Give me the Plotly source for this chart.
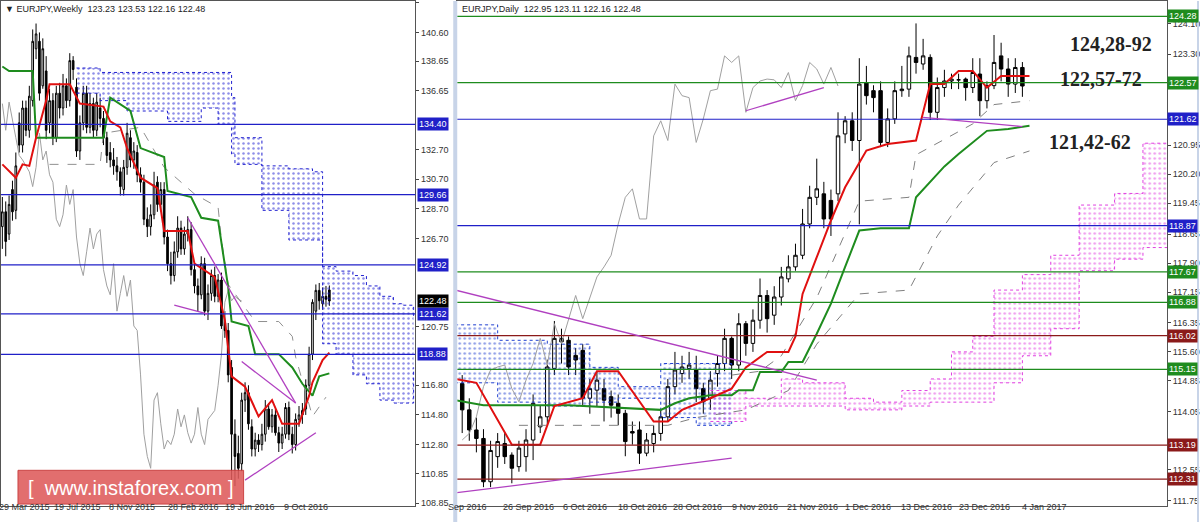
import plotly.graph_objects as go

# ---------------- weekly panel data (EURJPY, Weekly) ----------------
wO = [127.5,128.5,127.0,130.0,128.6,134.5,133.0,135.5,134.0,136.0,
      139.5,140.0,137.0,138.0,134.5,136.0,133.5,136.5,135.5,137.0,
      136.0,138.7,136.9,132.6,134.5,136.5,134.2,135.8,134.0,135.5,
      134.8,133.5,132.5,132.0,131.6,131.2,130.0,131.5,133.5,132.0,
      132.5,131.0,130.5,128.0,127.5,128.3,130.5,129.0,130.0,126.8,
      125.0,124.2,125.8,127.4,126.0,127.0,127.3,124.6,123.5,122.9,
      125.0,121.8,123.0,124.2,122.8,123.9,121.0,120.5,118.0,113.5,
      112.2,111.5,115.8,116.3,114.0,112.5,113.1,112.8,113.5,115.2,
      114.0,114.8,113.6,112.9,113.5,115.3,113.5,112.8,114.5,114.8,
      115.2,116.8,118.9,121.8,123.2,122.3,122.8,123.23]
wC = [128.5,126.5,129.0,128.5,131.6,133.0,135.5,134.0,136.3,140.0,
      140.5,136.5,139.5,134.0,136.0,133.5,136.5,135.5,137.0,136.0,
      138.7,138.1,132.6,134.5,136.5,134.2,135.8,134.0,135.9,134.8,
      133.5,132.3,132.0,131.6,131.2,130.2,131.5,133.8,132.0,132.6,
      131.0,130.5,128.0,127.5,128.3,130.3,129.0,130.0,126.8,125.0,
      124.2,125.8,127.4,126.0,127.0,127.3,124.6,123.5,122.9,125.0,
      121.8,123.0,124.2,122.8,123.9,120.8,120.5,117.5,113.5,112.0,
      111.2,115.8,116.3,114.2,112.5,113.1,112.8,113.5,115.2,114.0,
      114.8,113.6,112.9,113.5,115.3,113.5,112.8,114.5,114.8,115.1,
      116.8,118.9,122.4,123.2,122.5,122.8,122.6,122.48]
wH = [129.5,129.2,129.6,130.6,132.5,135.2,136.0,136.0,137.0,140.8,
      141.2,140.6,140.2,139.0,136.8,136.5,137.0,137.2,137.8,137.5,
      139.2,139.0,137.5,135.0,137.0,137.0,136.5,136.2,136.5,136.2,
      135.3,133.9,133.2,132.8,132.2,131.5,132.0,134.5,134.0,133.2,
      133.0,131.5,131.0,128.8,129.0,131.2,130.9,130.5,130.5,127.3,
      125.8,126.5,128.2,127.9,127.5,128.2,127.8,125.0,124.0,125.5,
      125.4,123.6,124.6,124.8,124.3,124.4,121.8,121.0,118.5,114.5,
      113.4,116.3,117.0,116.8,114.5,113.6,113.5,114.2,115.8,115.6,
      115.2,115.2,114.0,114.0,115.6,115.7,114.0,114.9,115.4,115.6,
      117.2,119.4,122.6,123.6,123.7,123.4,123.5,123.53]
wL = [126.0,125.5,126.6,127.9,128.0,132.5,132.5,133.6,133.5,135.6,
      138.8,136.0,136.8,133.4,133.8,133.0,133.2,134.8,135.0,135.5,
      135.6,137.4,132.2,132.0,134.0,133.8,133.8,133.5,133.6,134.2,
      133.0,131.8,131.5,131.0,130.6,129.6,129.6,131.0,131.5,131.4,
      130.5,129.8,127.6,126.8,126.9,128.0,128.5,128.6,126.3,124.5,
      123.6,123.8,125.4,125.6,125.6,126.5,124.2,123.0,121.8,122.6,
      121.5,121.2,122.5,122.4,122.4,120.6,120.0,117.0,109.6,110.0,
      110.5,111.0,115.0,113.8,112.0,112.0,112.3,112.4,113.0,113.8,
      113.6,113.4,112.3,112.5,113.2,113.1,112.2,112.4,114.0,114.2,
      114.8,116.5,118.5,121.2,121.9,121.9,122.1,122.16]

w_ten_x = [0,4,6,8,10,13,14,20,23,30,32,35,37,41,46,48,55,57,63,66,68,72,76,80,83,88,91,92,95,97]
w_ten_y = [131.7,130.8,131.7,131.6,133.5,136.0,137.1,137.1,135.8,135.6,134.6,134.2,132.8,130.8,130.1,
           127.2,127.2,125.0,124.1,121.2,117.4,116.7,114.7,115.8,114.2,114.2,116.1,117.0,118.5,119.0]
w_kij_x = [0,2,9,10,14,30,32,38,41,48,49,56,59,64,67,68,73,75,82,86,89,92,94,97]
w_kij_y = [138.3,138.0,138.0,133.5,133.5,133.5,136.2,135.3,132.8,132.2,129.9,129.5,128.1,127.9,
           123.4,121.1,120.8,118.9,118.9,118.0,116.9,116.1,117.4,117.6]
w_dash_x = [14,29,30,41,48,57,64,65,67,75,82,86,87,92,96]
w_dash_y = [131.7,131.7,133.8,134.2,131.5,129.7,128.8,126.6,123.6,121.1,121.1,120.1,118.7,114.7,116.0]
w_cloud_x = [22,29,37,49,59,64,68,69,77,85,92,95,99,104,108,112,116,119,122]
w_cloud_top = [138.2,137.9,137.9,137.9,137.9,137.9,136.2,133.5,131.6,131.4,131.2,124.8,124.5,
               124.2,123.5,122.8,122.3,122.2,121.4]
w_cloud_bot = [136.5,136.0,135.3,134.6,135.5,134.4,132.4,131.7,128.6,126.6,126.6,119.6,118.9,
               117.5,116.9,115.8,115.6,115.6,118.0]
w_levels = [134.40, 129.66, 124.92, 121.62, 118.88]
w_ticks = [142.60,140.60,138.65,136.65,132.70,130.70,128.70,126.70,120.75,116.80,114.80,112.80,110.85,108.85]
w_date_pos = [6.5,22.2,38.5,56.8,73.4,90.2]
w_date_txt = ["29 Mar 2015","19 Jul 2015","8 Nov 2015","28 Feb 2016","19 Jun 2016","9 Oct 2016"]
w_trend = [[(51,122.2),(61,121.6)],[(55,128.1),(87,115.6)],[(71,118.4),(87,115.6)],[(72,110.4),(93,113.6)]]

# ---------------- daily panel data (EURJPY, Daily) ----------------
dO = [114.78,114.10,113.58,113.36,112.24,112.89,113.23,112.93,112.63,112.89,
      113.32,113.66,113.92,115.17,115.95,115.90,115.51,115.64,114.40,114.61,
      114.65,114.44,114.27,114.01,113.54,113.58,112.98,113.23,113.49,113.92,
      114.70,115.04,115.17,115.13,114.65,114.40,115.04,115.30,115.95,115.26,
      116.33,115.82,116.42,117.06,116.55,117.02,117.49,117.80,118.10,118.91,
      119.60,119.69,119.52,119.69,121.24,121.58,121.07,122.57,122.36,122.36,
      121.02,121.63,122.36,122.40,123.22,123.05,123.22,121.80,122.44,122.61,
      122.64,122.66,122.44,122.79,122.10,122.49,123.26,122.92,122.53,122.96]
dC = [114.10,113.58,113.36,112.24,113.05,113.28,112.89,112.59,113.11,113.32,
      114.27,113.92,115.21,115.95,115.86,115.21,115.39,114.40,114.65,114.87,
      114.35,114.22,114.01,113.28,113.50,112.98,113.32,113.49,113.92,114.70,
      115.13,115.21,115.26,114.65,114.31,114.87,115.30,115.95,115.26,116.33,
      115.82,116.42,117.06,116.46,117.02,117.54,117.80,118.10,118.91,119.60,
      119.82,119.04,119.04,121.19,121.58,121.07,122.53,122.23,122.18,121.02,
      121.63,122.36,122.40,123.26,123.09,123.26,121.80,122.44,122.61,122.66,
      122.64,122.44,122.83,122.10,122.49,123.09,122.92,122.53,122.96,122.48]
dH = [115.0,114.4,113.9,113.6,113.3,113.5,113.5,113.0,113.3,113.6,
      114.5,114.2,115.4,116.4,116.2,116.0,115.7,115.8,114.9,115.1,
      114.9,114.6,114.5,114.1,113.8,113.8,113.5,113.7,114.1,114.9,
      115.6,115.5,115.6,115.5,114.8,115.1,115.5,116.2,116.0,116.6,
      116.4,116.7,117.5,117.2,117.3,117.8,118.1,118.4,119.3,119.9,
      120.6,120.0,119.8,121.8,121.7,121.8,123.2,123.0,122.5,122.6,
      121.9,122.6,123.0,123.5,124.1,123.7,123.3,122.7,122.9,122.8,
      122.8,122.7,123.2,123.2,122.6,123.8,123.6,123.2,123.2,123.1]
dL = [113.5,113.3,113.0,112.1,112.1,112.6,112.7,112.2,112.5,112.5,
      112.8,113.5,113.7,115.0,115.3,115.0,115.0,114.2,114.0,114.2,
      113.8,113.9,113.7,112.9,113.2,112.7,112.9,113.0,113.3,113.8,
      114.5,114.8,114.9,114.3,114.0,114.1,114.7,115.1,114.9,115.1,
      115.5,115.6,116.2,116.1,116.3,116.8,117.4,117.7,118.0,118.8,
      119.4,118.8,118.6,119.5,121.0,120.8,118.9,122.0,121.8,120.9,
      120.9,121.5,122.2,122.2,122.8,122.9,121.6,121.6,122.2,122.4,
      122.4,122.1,122.3,121.7,121.9,122.4,122.6,122.2,122.3,122.2]

d_ten_x = [-1,2,7,11,13,17,19,22,27,29,31,35,38,40,43,46,47,48,50,52,54,57,60,64,66,68,70,72,74,76,80]
d_ten_y = [114.9,114.8,113.2,113.2,114.2,114.4,115.1,115.1,113.8,113.8,114.1,114.4,114.65,115.2,115.6,
           115.6,116.0,117.1,118.05,119.0,119.86,120.81,120.98,121.07,122.53,122.53,122.87,122.87,
           122.44,122.74,122.74]
d_kij_x = [-1,3,15,28,30,32,35,38,39,41,42,45,46,48,50,52,54,56,59,63,64,68,70,74,77,80]
d_kij_y = [114.35,114.22,114.22,114.1,114.27,114.4,114.48,114.48,114.61,114.61,115.08,115.08,115.34,
           115.34,116.07,116.85,117.8,118.74,118.8,118.8,119.6,120.4,120.72,121.32,121.37,121.45]
d_dash1_x = [38,42,45,50,56,63,64,68,72,75,80]
d_dash1_y = [115.0,115.1,115.5,117.0,119.5,119.6,120.7,121.1,121.5,122.0,122.1]
d_dash2_x = [8,14,29,33,40,46,50,56,63,67,70,75,80]
d_dash2_y = [113.7,113.7,113.7,113.9,114.1,114.6,115.8,117.1,117.2,118.6,119.4,120.5,120.8]
d_cloud1_x = [-1,5,12,18,22,28,33,38]
d_cloud1_top = [116.3,115.9,115.8,115.2,114.7,115.3,115.3,115.2]
d_cloud1_bot = [114.8,114.3,114.2,114.3,114.4,113.9,113.7,113.8]
d_cloud2_x = [35,40,45,48,54,58,62,66,69,72,75,79,83,87,92,96,100]
d_cloud2_top = [114.6,114.4,114.9,114.8,114.4,114.3,114.6,114.9,115.6,116.0,117.2,117.6,118.1,119.4,119.7,121.0,121.4]
d_cloud2_bot = [113.8,114.2,114.2,114.2,114.1,114.1,114.2,114.3,114.3,114.3,114.8,115.5,116.2,117.7,118.0,118.3,118.3]
d_green = [124.28, 122.57, 117.67, 116.88, 115.15]
d_blue = [121.62, 118.87]
d_red = [116.02, 113.19, 112.31]
d_ticks = [124.10,123.30,120.95,120.20,119.45,118.65,117.90,117.15,116.35,115.60,114.85,114.05,112.55,111.75]
d_date_pos = [0.8,9.3,17.3,25.4,33.2,41.3,49.4,57.2,65.5,73.7,82.1]
d_date_txt = ["Sep 2016","26 Sep 2016","6 Oct 2016","18 Oct 2016","28 Oct 2016","9 Nov 2016",
              "21 Nov 2016","1 Dec 2016","13 Dec 2016","23 Dec 2016","4 Jan 2017"]
d_trend = [[(-1,117.2),(50,114.87)],[(-1,111.95),(38,112.85)],[(40,121.84),(51,122.44)],[(65,121.67),(79,121.43)]]

BLUE = "#2020c8"
GREEN = "#1e8c1e"
DRED = "#8b1a1a"
PURP = "#b040c0"
W = 1200
H = 524
FONT = "Liberation Sans"

fig = go.Figure()


def cloud(x, top, bot, col, xa, ya):
    fig.add_trace(go.Scatter(x=x, y=bot, xaxis=xa, yaxis=ya, mode="lines", line_shape="hv",
                             line=dict(color=col, width=1, dash="dot"), hoverinfo="skip"))
    fig.add_trace(go.Scatter(x=x, y=top, xaxis=xa, yaxis=ya, mode="lines", line_shape="hv",
                             line=dict(color=col, width=1, dash="dot"), fill="tonexty",
                             fillcolor="rgba(0,0,0,0)",
                             fillpattern=dict(shape=".", fgcolor=col, size=5, solidity=0.2),
                             hoverinfo="skip"))


def line(x, y, col, xa, ya, width=1.5, dash="solid"):
    fig.add_trace(go.Scatter(x=x, y=y, xaxis=xa, yaxis=ya, mode="lines",
                             line=dict(color=col, width=width, dash=dash), hoverinfo="skip"))


# weekly
cloud(w_cloud_x, w_cloud_top, w_cloud_bot, "#2020d0", "x", "y")
line(list(range(len(wC) - 26)), wC[26:], "#a0a0a0", "x", "y", 1)
line(w_dash_x, w_dash_y, "#909090", "x", "y", 1, "dash")
line(w_kij_x, w_kij_y, GREEN, "x", "y", 2)
line(w_ten_x, w_ten_y, "#e01010", "x", "y", 2)
fig.add_trace(go.Candlestick(x=list(range(len(wC))), open=wO, high=wH, low=wL, close=wC,
                             xaxis="x", yaxis="y", whiskerwidth=0,
                             increasing=dict(line=dict(color="black", width=1), fillcolor="white"),
                             decreasing=dict(line=dict(color="black", width=1), fillcolor="black")))

# daily
cloud(d_cloud1_x, d_cloud1_top, d_cloud1_bot, "#2040d0", "x2", "y2")
cloud(d_cloud2_x, d_cloud2_top, d_cloud2_bot, "#e040e0", "x2", "y2")
line(list(range(len(dC) - 26)), dC[26:], "#a0a0a0", "x2", "y2", 1)
line(d_dash1_x, d_dash1_y, "#808080", "x2", "y2", 1, "dash")
line(d_dash2_x, d_dash2_y, "#808080", "x2", "y2", 1, "dash")
line(d_kij_x, d_kij_y, GREEN, "x2", "y2", 2)
line(d_ten_x, d_ten_y, "#e01010", "x2", "y2", 2)
fig.add_trace(go.Candlestick(x=list(range(len(dC))), open=dO, high=dH, low=dL, close=dC,
                             xaxis="x2", yaxis="y2", whiskerwidth=0,
                             increasing=dict(line=dict(color="black", width=1), fillcolor="white"),
                             decreasing=dict(line=dict(color="black", width=1), fillcolor="black")))

shapes = []
ann = []


def hline(y, col, xr, yr):
    shapes.append(dict(type="line", xref=xr + " domain", x0=0, x1=1, yref=yr, y0=y, y1=y,
                       line=dict(color=col, width=1.2)))


def tag(y, txt, col, px, yr, size=9):
    ann.append(dict(x=px / W, xref="paper", xanchor="left", y=y, yref=yr, text=txt, showarrow=False,
                    bgcolor=col, font=dict(size=size, color="white", family=FONT), borderpad=1))


for v in w_levels:
    hline(v, BLUE, "x", "y")
    tag(v, f"{v:.2f}", BLUE, 417, "y")
tag(122.48, "122.48", "black", 417, "y")
for lv, col in [(d_green, GREEN), (d_blue, BLUE), (d_red, DRED)]:
    for v in lv:
        hline(v, col, "x2", "y2")
        tag(v, f"{v:.2f}", col, 1168, "y2", 9)

for xr, yr, lines_ in [("x", "y", w_trend), ("x2", "y2", d_trend)]:
    for (a, b) in lines_:
        shapes.append(dict(type="line", xref=xr, yref=yr, x0=a[0], y0=a[1], x1=b[0], y1=b[1],
                           line=dict(color=PURP, width=1.3)))

# date labels under each panel
for xr, pos, txts in [("x", w_date_pos, w_date_txt), ("x2", d_date_pos, d_date_txt)]:
    for p, t in zip(pos, txts):
        ann.append(dict(x=p, xref=xr, y=1 - 516 / H, yref="paper", text=t, showarrow=False,
                        xanchor="center", font=dict(size=9, color="#333", family=FONT)))

# panel separator and right border
shapes.append(dict(type="rect", xref="paper", yref="paper", x0=453 / W, x1=457 / W, y0=0, y1=1,
                   fillcolor="#c8d4e8", line=dict(width=0)))
shapes.append(dict(type="rect", xref="paper", yref="paper", x0=1198 / W, x1=1, y0=0, y1=1,
                   fillcolor="#c8d4e8", line=dict(width=0)))
# watermark
shapes.append(dict(type="rect", xref="paper", yref="paper", x0=17 / W, x1=243 / W,
                   y0=1 - 506 / H, y1=1 - 472 / H, fillcolor="rgba(222,90,90,0.88)",
                   line=dict(color="rgba(200,60,60,0.9)", width=1)))
ann.append(dict(x=130 / W, y=1 - 490 / H, xref="paper", yref="paper", showarrow=False,
                xanchor="center", yanchor="middle", text="[  www.instaforex.com ]",
                font=dict(size=20, color="white", family=FONT)))

ann.append(dict(x=2 / W, y=1 - 1 / H, xref="paper", yref="paper", xanchor="left", yanchor="top",
                showarrow=False, text="▼ EURJPY,Weekly  123.23 123.53 122.16 122.48",
                font=dict(size=9, color="#222", family=FONT)))
ann.append(dict(x=460 / W, y=1 - 1 / H, xref="paper", yref="paper", xanchor="left", yanchor="top",
                showarrow=False, text="EURJPY,Daily  122.95 123.11 122.16 122.48",
                font=dict(size=9, color="#222", family=FONT)))
for txt, cx, cy in [("124,28-92", 1112, 30), ("122,57-72", 1102, 65), ("121,42-62", 1091, 129)]:
    ann.append(dict(x=cx / W, y=1 - cy / H, xref="paper", yref="paper", showarrow=False,
                    xanchor="center", text=f"<b>{txt}</b>",
                    font=dict(size=20, color="#222", family="Liberation Serif")))

ydom = [16 / H, 1]
ax_font = dict(size=9, color="#333", family=FONT)
fig.update_layout(
    width=W, height=H, margin=dict(l=0, r=0, t=0, b=0),
    paper_bgcolor="white", plot_bgcolor="white", showlegend=False,
    shapes=shapes, annotations=ann,
    xaxis=dict(domain=[0, 415 / W], range=[-0.4, 122.5], showgrid=False, zeroline=False,
               rangeslider=dict(visible=False), showticklabels=False, ticks="",
               showline=True, linecolor="#555", mirror=True),
    yaxis=dict(domain=ydom, range=[108.65, 142.72], side="right", showgrid=False, zeroline=False,
               tickvals=w_ticks, ticktext=[f"{v:.2f}" for v in w_ticks], tickfont=ax_font,
               ticks="outside", ticklen=3, showline=True, linecolor="#555", mirror=True),
    xaxis2=dict(domain=[457 / W, 1168 / W], range=[-0.7, 99.4], showgrid=False, zeroline=False,
                rangeslider=dict(visible=False), showticklabels=False, ticks="", anchor="y2",
                showline=True, linecolor="#555", mirror=True),
    yaxis2=dict(domain=ydom, range=[111.61, 124.68], side="right", anchor="x2", showgrid=False,
                zeroline=False, tickvals=d_ticks, ticktext=[f"{v:.2f}" for v in d_ticks],
                tickfont=ax_font, ticks="outside", ticklen=3,
                showline=True, linecolor="#555", mirror=True),
)

fig.write_html("out.html", config={"displayModeBar": False},
               post_script="document.body.style.margin='0';document.body.style.overflow='hidden';")
